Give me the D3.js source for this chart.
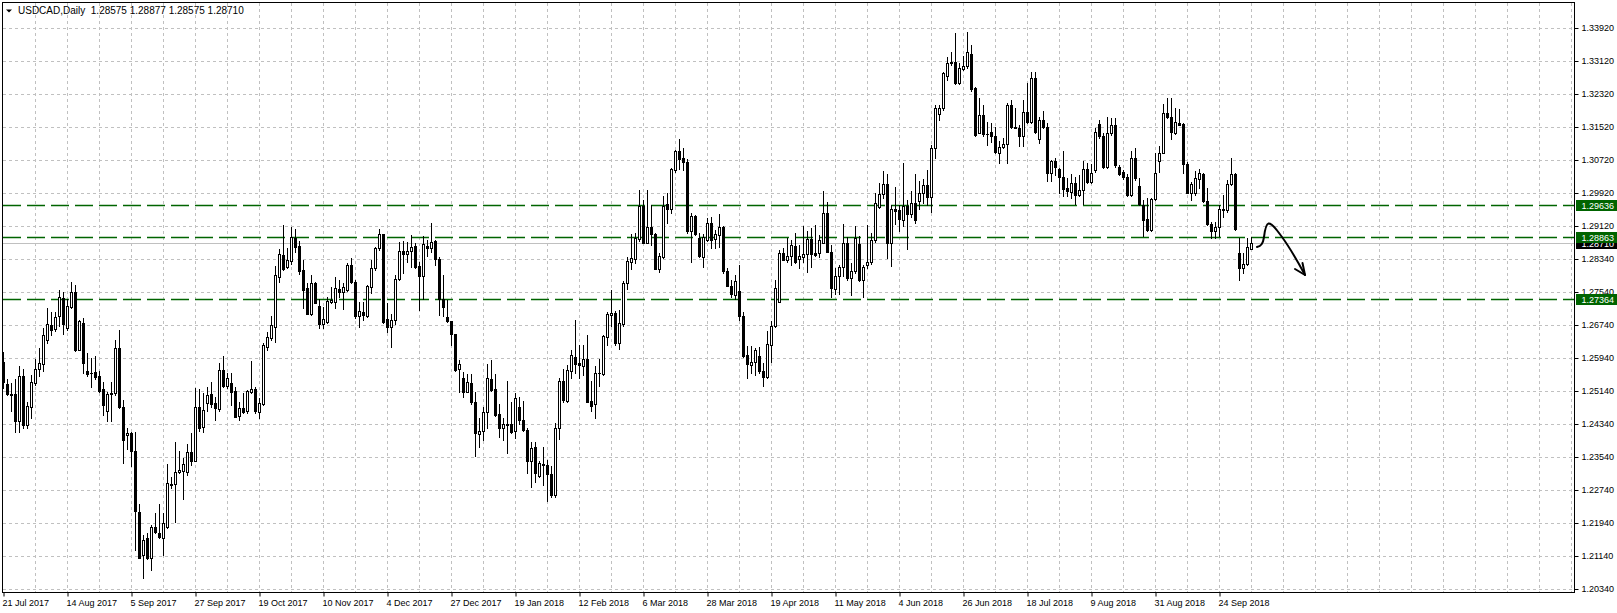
<!DOCTYPE html>
<html><head><meta charset="utf-8">
<script src="https://cdn.jsdelivr.net/npm/d3@7"></script>
<style>
html,body{margin:0;padding:0;background:#fff;}
svg{display:block;}
</style></head><body>
<svg id="chart" width="1617" height="613"></svg>
<script>
// ---------------- data ----------------
const symbol = "USDCAD,Daily";
const firstDate = "2017-07-21";
const holidays = ["2017-12-25", "2018-01-01"];
const lastBar = ["1.28575", "1.28877", "1.28575", "1.28710"];

const open = [
1.2583,1.2531,1.2507,1.2506,1.2442,1.2550,1.2430,1.2476,1.2534,1.2566,
1.2578,1.2637,1.2674,1.2663,1.2694,1.2738,1.2665,1.2718,1.2753,1.2614,
1.2678,1.2562,1.2557,1.2559,1.2550,1.2518,1.2464,1.2506,1.2508,1.2617,
1.2476,1.2406,1.2411,1.2369,1.2220,1.2117,1.2157,1.2109,1.2183,1.2169,
1.2157,1.2183,1.2288,1.2288,1.2317,1.2320,1.2318,1.2365,1.2345,1.2474,
1.2426,1.2484,1.2506,1.2485,1.2469,1.2564,1.2526,1.2534,1.2514,1.2453,
1.2472,1.2464,1.2512,1.2518,1.2462,1.2482,1.2619,1.2643,1.2669,1.2790,
1.2843,1.2815,1.2829,1.2885,1.2865,1.2807,1.2762,1.2700,1.2774,1.2719,
1.2677,1.2681,1.2730,1.2730,1.2761,1.2754,1.2758,1.2819,1.2777,1.2694,
1.2706,1.2694,1.2766,1.2811,1.2861,1.2894,1.2688,1.2669,1.2685,1.2785,
1.2853,1.2845,1.2853,1.2865,1.2816,1.2792,1.2865,1.2859,1.2877,1.2833,
1.2736,1.2692,1.2683,1.2651,1.2566,1.2545,1.2511,1.2533,1.2487,1.2409,
1.2416,1.2462,1.2543,1.2518,1.2458,1.2424,1.2433,1.2433,1.2416,1.2476,
1.2444,1.2420,1.2343,1.2377,1.2307,1.2334,1.2335,1.2313,1.2262,1.2424,
1.2538,1.2490,1.2563,1.2596,1.2581,1.2575,1.2591,1.2490,1.2482,1.2556,
1.2555,1.2644,1.2698,1.2702,1.2629,1.2676,1.2775,1.2827,1.2833,1.2881,
1.2962,1.2873,1.2910,1.2894,1.2809,1.2839,1.2967,1.2954,1.3049,1.3095,
1.3077,1.3069,1.2900,1.2938,1.2884,1.2839,1.2880,1.2920,1.2881,1.2892,
1.2910,1.2805,1.2768,1.2745,1.2756,1.2696,1.2601,1.2577,1.2583,1.2599,
1.2563,1.2547,1.2625,1.2670,1.2730,1.2847,1.2831,1.2841,1.2865,1.2833,
1.2838,1.2846,1.2881,1.2847,1.2847,1.2873,1.2944,1.2851,1.2760,1.2793,
1.2813,1.2873,1.2787,1.2805,1.2870,1.2783,1.2819,1.2825,1.2879,1.2959,
1.2991,1.3015,1.2871,1.2954,1.2952,1.2928,1.2962,1.2942,1.2968,1.2974,
1.2994,1.3012,1.2984,1.3101,1.3184,1.3198,1.3276,1.3310,1.3310,1.3259,
1.3293,1.3301,1.3329,1.3247,1.3139,1.3182,1.3137,1.3140,1.3131,1.3091,
1.3104,1.3112,1.3206,1.3152,1.3151,1.3131,1.3189,1.3166,1.3271,1.3125,
1.3170,1.3152,1.3042,1.3071,1.3052,1.3031,1.3005,1.2995,1.3017,1.2989,
1.3001,1.3051,1.3019,1.3049,1.3161,1.3130,1.3055,1.3138,1.3158,1.3057,
1.3043,1.3033,1.2989,1.3079,1.3011,1.2963,1.2931,1.2904,1.2978,1.3071,
1.3091,1.3186,1.3177,1.3138,1.3162,1.3160,1.3063,1.2993,1.2993,1.3027,
1.3039,1.2974,1.2918,1.2900,1.2910,1.2954,1.2951,1.3015,1.3039,1.2848,
1.2811,1.2822,1.28575];

const high = [
1.2609,1.2543,1.2532,1.2543,1.2574,1.2566,1.2488,1.2553,1.2591,1.2617,
1.2666,1.2714,1.2706,1.2706,1.2758,1.2753,1.2736,1.2777,1.2770,1.2686,
1.2691,1.2605,1.2593,1.2598,1.2561,1.2536,1.2512,1.2536,1.2637,1.2661,
1.2492,1.2423,1.2415,1.2414,1.2240,1.2165,1.2169,1.2189,1.2218,1.2239,
1.2218,1.2337,1.2306,1.2389,1.2368,1.2351,1.2385,1.2411,1.2520,1.2518,
1.2508,1.2524,1.2536,1.2500,1.2581,1.2598,1.2556,1.2556,1.2524,1.2488,
1.2508,1.2516,1.2587,1.2524,1.2496,1.2629,1.2657,1.2694,1.2816,1.2857,
1.2915,1.2859,1.2911,1.2907,1.2878,1.2831,1.2774,1.2794,1.2778,1.2737,
1.2718,1.2742,1.2766,1.2790,1.2782,1.2774,1.2824,1.2835,1.2782,1.2730,
1.2730,1.2770,1.2831,1.2863,1.2907,1.2895,1.2726,1.2699,1.2794,1.2874,
1.2878,1.2875,1.2891,1.2871,1.2827,1.2890,1.2880,1.2920,1.2880,1.2837,
1.2795,1.2734,1.2684,1.2652,1.2589,1.2559,1.2554,1.2554,1.2512,1.2448,
1.2476,1.2579,1.2589,1.2554,1.2482,1.2448,1.2538,1.2488,1.2508,1.2498,
1.2490,1.2424,1.2391,1.2391,1.2345,1.2377,1.2347,1.2331,1.2436,1.2545,
1.2566,1.2577,1.2613,1.2686,1.2625,1.2625,1.2650,1.2538,1.2573,1.2591,
1.2648,1.2704,1.2759,1.2708,1.2710,1.2779,1.2839,1.2895,1.2896,1.3001,
1.2977,1.3001,1.2964,1.2896,1.2847,1.2985,1.2994,1.3053,1.3098,1.3123,
1.3102,1.3075,1.2944,1.2940,1.2896,1.2894,1.2932,1.2935,1.2904,1.2943,
1.2914,1.2811,1.2783,1.2795,1.2819,1.2706,1.2623,1.2623,1.2617,1.2621,
1.2581,1.2659,1.2682,1.2783,1.2854,1.2860,1.2884,1.2880,1.2896,1.2868,
1.2912,1.2900,1.2908,1.2916,1.2892,1.2997,1.2972,1.2868,1.2811,1.2819,
1.2918,1.2887,1.2823,1.2912,1.2889,1.2819,1.2916,1.2896,1.2994,1.3018,
1.3046,1.3039,1.2964,1.3007,1.2964,1.3065,1.2976,1.2999,1.3039,1.3023,
1.3028,1.3050,1.3109,1.3206,1.3206,1.3287,1.3322,1.3335,1.3380,1.3307,
1.3325,1.3384,1.3351,1.3251,1.3222,1.3206,1.3166,1.3162,1.3152,1.3119,
1.3126,1.3210,1.3218,1.3198,1.3158,1.3218,1.3260,1.3287,1.3287,1.3178,
1.3192,1.3163,1.3073,1.3077,1.3053,1.3095,1.3029,1.3039,1.3033,1.3037,
1.3071,1.3065,1.3064,1.3150,1.3170,1.3138,1.3176,1.3174,1.3174,1.3061,
1.3049,1.3039,1.3094,1.3103,1.3029,1.2977,1.2981,1.2981,1.3090,1.3106,
1.3208,1.3223,1.3224,1.3199,1.3197,1.3162,1.3068,1.3019,1.3047,1.3051,
1.3041,1.3006,1.2924,1.2922,1.2964,1.2989,1.3025,1.3079,1.3041,1.2885,
1.2848,1.2884,1.28877];

const low = [
1.2520,1.2504,1.2464,1.2414,1.2414,1.2423,1.2425,1.2449,1.2528,1.2551,
1.2561,1.2629,1.2649,1.2659,1.2672,1.2652,1.2661,1.2714,1.2611,1.2613,
1.2557,1.2551,1.2524,1.2543,1.2512,1.2456,1.2442,1.2440,1.2504,1.2472,
1.2339,1.2373,1.2333,1.2129,1.2108,1.2060,1.2107,1.2080,1.2169,1.2157,
1.2117,1.2181,1.2278,1.2196,1.2314,1.2251,1.2310,1.2335,1.2343,1.2417,
1.2414,1.2464,1.2476,1.2443,1.2466,1.2524,1.2522,1.2480,1.2450,1.2443,
1.2460,1.2460,1.2508,1.2461,1.2447,1.2480,1.2613,1.2637,1.2633,1.2778,
1.2807,1.2812,1.2821,1.2851,1.2797,1.2714,1.2699,1.2698,1.2726,1.2665,
1.2665,1.2679,1.2726,1.2714,1.2742,1.2711,1.2756,1.2774,1.2690,1.2669,
1.2686,1.2692,1.2750,1.2807,1.2855,1.2679,1.2657,1.2621,1.2677,1.2782,
1.2800,1.2827,1.2815,1.2811,1.2710,1.2736,1.2841,1.2850,1.2819,1.2698,
1.2696,1.2680,1.2625,1.2562,1.2512,1.2498,1.2510,1.2482,1.2355,1.2377,
1.2395,1.2425,1.2514,1.2454,1.2401,1.2395,1.2363,1.2413,1.2399,1.2433,
1.2417,1.2315,1.2281,1.2293,1.2305,1.2286,1.2248,1.2258,1.2256,1.2398,
1.2488,1.2488,1.2545,1.2557,1.2545,1.2553,1.2488,1.2464,1.2449,1.2525,
1.2553,1.2624,1.2670,1.2625,1.2615,1.2670,1.2761,1.2809,1.2823,1.2876,
1.2872,1.2872,1.2868,1.2808,1.2801,1.2835,1.2920,1.2944,1.3045,1.3051,
1.3049,1.2897,1.2827,1.2892,1.2839,1.2815,1.2876,1.2860,1.2860,1.2862,
1.2799,1.2767,1.2742,1.2736,1.2686,1.2597,1.2545,1.2558,1.2553,1.2558,
1.2525,1.2546,1.2583,1.2668,1.2730,1.2830,1.2827,1.2819,1.2823,1.2811,
1.2827,1.2801,1.2815,1.2841,1.2838,1.2872,1.2851,1.2742,1.2749,1.2749,
1.2791,1.2783,1.2746,1.2799,1.2781,1.2742,1.2811,1.2821,1.2875,1.2956,
1.2980,1.2835,1.2816,1.2918,1.2900,1.2912,1.2857,1.2934,1.2920,1.2954,
1.2968,1.2964,1.2948,1.3077,1.3170,1.3194,1.3267,1.3303,1.3258,1.3257,
1.3291,1.3297,1.3241,1.3130,1.3138,1.3132,1.3109,1.3117,1.3089,1.3065,
1.3101,1.3065,1.3150,1.3150,1.3107,1.3107,1.3162,1.3162,1.3139,1.3113,
1.3150,1.3023,1.3023,1.3037,1.2993,1.2985,1.2985,1.2981,1.2967,1.2985,
1.2966,1.3017,1.3017,1.3044,1.3126,1.3053,1.3053,1.3134,1.3057,1.3037,
1.3027,1.2985,1.2987,1.3025,1.2964,1.2888,1.2902,1.2902,1.2977,1.3044,
1.3090,1.3174,1.3124,1.3136,1.3157,1.3041,1.2993,1.2977,1.2989,1.3005,
1.2971,1.2916,1.2885,1.2884,1.2888,1.2936,1.2948,1.3013,1.2904,1.2783,
1.2799,1.2819,1.28575];

const close = [
1.2536,1.2506,1.2505,1.2440,1.2550,1.2431,1.2477,1.2535,1.2566,1.2581,
1.2649,1.2675,1.2661,1.2693,1.2742,1.2676,1.2720,1.2753,1.2613,1.2682,
1.2582,1.2555,1.2556,1.2547,1.2514,1.2480,1.2507,1.2508,1.2617,1.2476,
1.2395,1.2411,1.2369,1.2222,1.2109,1.2153,1.2109,1.2183,1.2172,1.2160,
1.2193,1.2290,1.2286,1.2318,1.2322,1.2336,1.2367,1.2343,1.2474,1.2425,
1.2468,1.2504,1.2482,1.2472,1.2564,1.2526,1.2544,1.2512,1.2451,1.2472,
1.2463,1.2514,1.2518,1.2464,1.2484,1.2625,1.2644,1.2673,1.2794,1.2845,
1.2808,1.2831,1.2886,1.2863,1.2805,1.2758,1.2700,1.2774,1.2727,1.2677,
1.2688,1.2731,1.2734,1.2762,1.2754,1.2766,1.2819,1.2777,1.2694,1.2707,
1.2698,1.2768,1.2811,1.2861,1.2895,1.2681,1.2669,1.2685,1.2786,1.2853,
1.2845,1.2853,1.2863,1.2815,1.2792,1.2869,1.2861,1.2874,1.2833,1.2737,
1.2718,1.2682,1.2651,1.2565,1.2579,1.2510,1.2535,1.2486,1.2412,1.2417,
1.2462,1.2545,1.2516,1.2456,1.2425,1.2433,1.2432,1.2414,1.2496,1.2444,
1.2420,1.2343,1.2375,1.2316,1.2339,1.2337,1.2312,1.2262,1.2424,1.2538,
1.2491,1.2565,1.2601,1.2579,1.2577,1.2591,1.2488,1.2478,1.2557,1.2557,
1.2646,1.2700,1.2702,1.2629,1.2678,1.2775,1.2829,1.2835,1.2884,1.2962,
1.2873,1.2910,1.2894,1.2809,1.2841,1.2962,1.2954,1.3051,1.3095,1.3075,
1.3069,1.2900,1.2938,1.2894,1.2841,1.2886,1.2920,1.2880,1.2893,1.2910,
1.2803,1.2767,1.2749,1.2780,1.2694,1.2599,1.2579,1.2584,1.2613,1.2561,
1.2547,1.2628,1.2671,1.2763,1.2847,1.2831,1.2841,1.2868,1.2825,1.2841,
1.2846,1.2881,1.2845,1.2843,1.2880,1.2944,1.2851,1.2763,1.2793,1.2813,
1.2873,1.2787,1.2803,1.2883,1.2783,1.2815,1.2825,1.2879,1.2970,1.2991,
1.3015,1.2871,1.2954,1.2950,1.2929,1.2962,1.2942,1.2968,1.2928,1.2994,
1.3012,1.2984,1.3101,1.3200,1.3198,1.3283,1.3307,1.3307,1.3259,1.3295,
1.3301,1.3334,1.3244,1.3134,1.3182,1.3135,1.3135,1.3130,1.3093,1.3104,
1.3112,1.3206,1.3152,1.3151,1.3130,1.3189,1.3166,1.3271,1.3142,1.3170,
1.3152,1.3042,1.3071,1.3057,1.3031,1.3003,1.2997,1.3017,1.2989,1.3001,
1.3051,1.3019,1.3041,1.3140,1.3132,1.3055,1.3138,1.3158,1.3060,1.3039,
1.3031,1.2989,1.3079,1.3029,1.2966,1.2928,1.2904,1.2978,1.3041,1.3091,
1.3186,1.3177,1.3140,1.3164,1.3158,1.3063,1.2994,1.3015,1.3029,1.3041,
1.2973,1.2918,1.2900,1.2910,1.2954,1.2951,1.3015,1.3039,1.2906,1.2811,
1.2822,1.2862,1.28710];

const priceTicks = [1.33920,1.33120,1.32320,1.31520,1.30720,1.29920,1.29120,1.28340,
  1.27540,1.26740,1.25940,1.25140,1.24340,1.23540,1.22740,1.21940,1.21140,1.20340];
const levels = [1.29636, 1.28863, 1.27364];
const bidPrice = 1.28710;
const labelEvery = 16;   // bars between date labels
const gridEvery = 8;     // bars between vertical grid lines
const visibleBars = 392; // chart width in bars (incl. right shift)

// ---------------- build ----------------
const FONT = "'Liberation Sans', Arial, sans-serif";
const svg = d3.select("#chart");
svg.append("rect").attr("width", 1617).attr("height", 613).attr("fill", "#fff");

const plot = {left: 2.5, top: 2.5, right: 1574.5, bottom: 592.5};

// trading-day calendar
const parse = d3.utcParse("%Y-%m-%d"), iso = d3.utcFormat("%Y-%m-%d");
const dates = [];
for (let d = parse(firstDate); dates.length < close.length; d = d3.utcDay.offset(d, 1)) {
  const wd = d.getUTCDay();
  if (wd !== 0 && wd !== 6 && !holidays.includes(iso(d))) dates.push(d);
}
const fmtLabel = d3.utcFormat("%-d %b %Y");

const bars = close.map((c, i) => ({i, o: open[i], h: high[i], l: low[i], c}));

const x = d3.scaleLinear().domain([0, visibleBars]).range([3.5, 1571.5]);
const y = d3.scaleLinear().domain([1.2034, 1.3392]).range([589, 28.3]);
const py = v => Math.round(y(v)) + 0.5;

svg.append("defs").append("clipPath").attr("id", "clip")
  .append("rect").attr("x", 3).attr("y", 3).attr("width", 1571).attr("height", 589);

const gridG = svg.append("g").attr("clip-path", "url(#clip)");
// vertical grid
gridG.selectAll("line.vg").data(d3.range(gridEvery, visibleBars + 1, gridEvery)).join("line")
  .attr("x1", d => x(d)).attr("x2", d => x(d)).attr("y1", 3).attr("y2", 592)
  .attr("stroke", "#c0c0c0").attr("stroke-dasharray", "3,3");
// horizontal grid
gridG.selectAll("line.hg").data(priceTicks).join("line")
  .attr("x1", 3).attr("x2", 1574).attr("y1", d => py(d)).attr("y2", d => py(d))
  .attr("stroke", "#c0c0c0").attr("stroke-dasharray", "3,3");

// bid line
gridG.append("line").attr("x1", 3).attr("x2", 1574)
  .attr("y1", py(bidPrice)).attr("y2", py(bidPrice)).attr("stroke", "#c0c0c0");

// horizontal levels
gridG.selectAll("line.lvl").data(levels).join("line")
  .attr("x1", 3).attr("x2", 1574).attr("y1", d => py(d)).attr("y2", d => py(d))
  .attr("stroke", "#006400").attr("stroke-width", 1.3).attr("stroke-dasharray", "18,6");

// candles
const cg = svg.append("g").attr("clip-path", "url(#clip)");
cg.selectAll("line.wick").data(bars).join("line")
  .attr("x1", d => x(d.i)).attr("x2", d => x(d.i))
  .attr("y1", d => Math.round(y(d.h))).attr("y2", d => Math.round(y(d.l)) + 1)
  .attr("stroke", "#000");
bars.forEach(d => {
  const yt = Math.round(y(Math.max(d.o, d.c))), yb = Math.round(y(Math.min(d.o, d.c)));
  const bull = d.c >= d.o;
  if (yb - yt < 1) {
    cg.append("line").attr("x1", x(d.i) - 1.5).attr("x2", x(d.i) + 1.5)
      .attr("y1", yt + 0.5).attr("y2", yt + 0.5).attr("stroke", "#000");
  } else {
    cg.append("rect").attr("x", x(d.i) - 1).attr("width", 2)
      .attr("y", yt + 0.5).attr("height", yb - yt)
      .attr("fill", bull ? "#fff" : "#000").attr("stroke", "#000");
  }
});

// hand-drawn arrow
const ag = svg.append("g").attr("fill", "none").attr("stroke", "#000")
  .attr("stroke-width", 2).attr("stroke-linecap", "round").attr("stroke-linejoin", "round");
ag.append("path").attr("d",
  "M1257,247 C1261,246 1263,244 1264,237 C1265,229 1266,224 1268.5,223.5 C1272,223 1276,229 1282,237 C1290,248 1298,262 1305,275");
ag.append("path").attr("d", "M1302.5,263 L1305,275 L1295,269");

// frame
svg.append("rect").attr("x", plot.left).attr("y", plot.top)
  .attr("width", plot.right - plot.left).attr("height", plot.bottom - plot.top)
  .attr("fill", "none").attr("stroke", "#000");

// price axis
const yAxis = d3.axisRight(y).tickValues(priceTicks).tickFormat(d3.format(".5f"))
  .tickSize(4).tickPadding(3);
const ya = svg.append("g").attr("transform", `translate(${plot.right},0)`).call(yAxis);
ya.select(".domain").remove();
ya.attr("font-family", FONT).attr("font-size", 9);
ya.selectAll(".tick").attr("transform", d => `translate(0,${py(d)})`);
ya.selectAll(".tick text").attr("fill", "#000");

// date axis
const xAxis = d3.axisBottom(x).tickValues(d3.range(0, close.length, labelEvery))
  .tickFormat(i => fmtLabel(dates[i])).tickSize(4).tickPadding(3);
const xa = svg.append("g").attr("transform", `translate(0,${plot.bottom})`).call(xAxis);
xa.select(".domain").remove();
xa.attr("font-family", FONT).attr("font-size", 9);
xa.selectAll(".tick text").attr("text-anchor", "start").attr("x", -1.5).attr("fill", "#000");

// price labels for levels and bid
function priceBox(v, bg) {
  const yc = Math.round(y(v));
  svg.append("rect").attr("x", 1576).attr("y", yc - 5).attr("width", 41).attr("height", 11).attr("fill", bg);
  svg.append("text").attr("x", 1581.5).attr("y", yc + 0.5).attr("dy", "0.35em")
    .attr("font-family", FONT).attr("font-size", 9).attr("fill", "#fff")
    .text(d3.format(".5f")(v));
}
priceBox(bidPrice, "#000");
levels.forEach(v => priceBox(v, "#006400"));

// title
svg.append("path").attr("d", "M6,9.5 L12,9.5 L9,12.5 Z").attr("fill", "#000");
svg.append("text").attr("x", 18).attr("y", 14).attr("font-family", FONT).attr("font-size", 10)
  .attr("fill", "#000").style("white-space", "pre")
  .text(symbol + "  " + lastBar.join(" "));
</script>
</body></html>
